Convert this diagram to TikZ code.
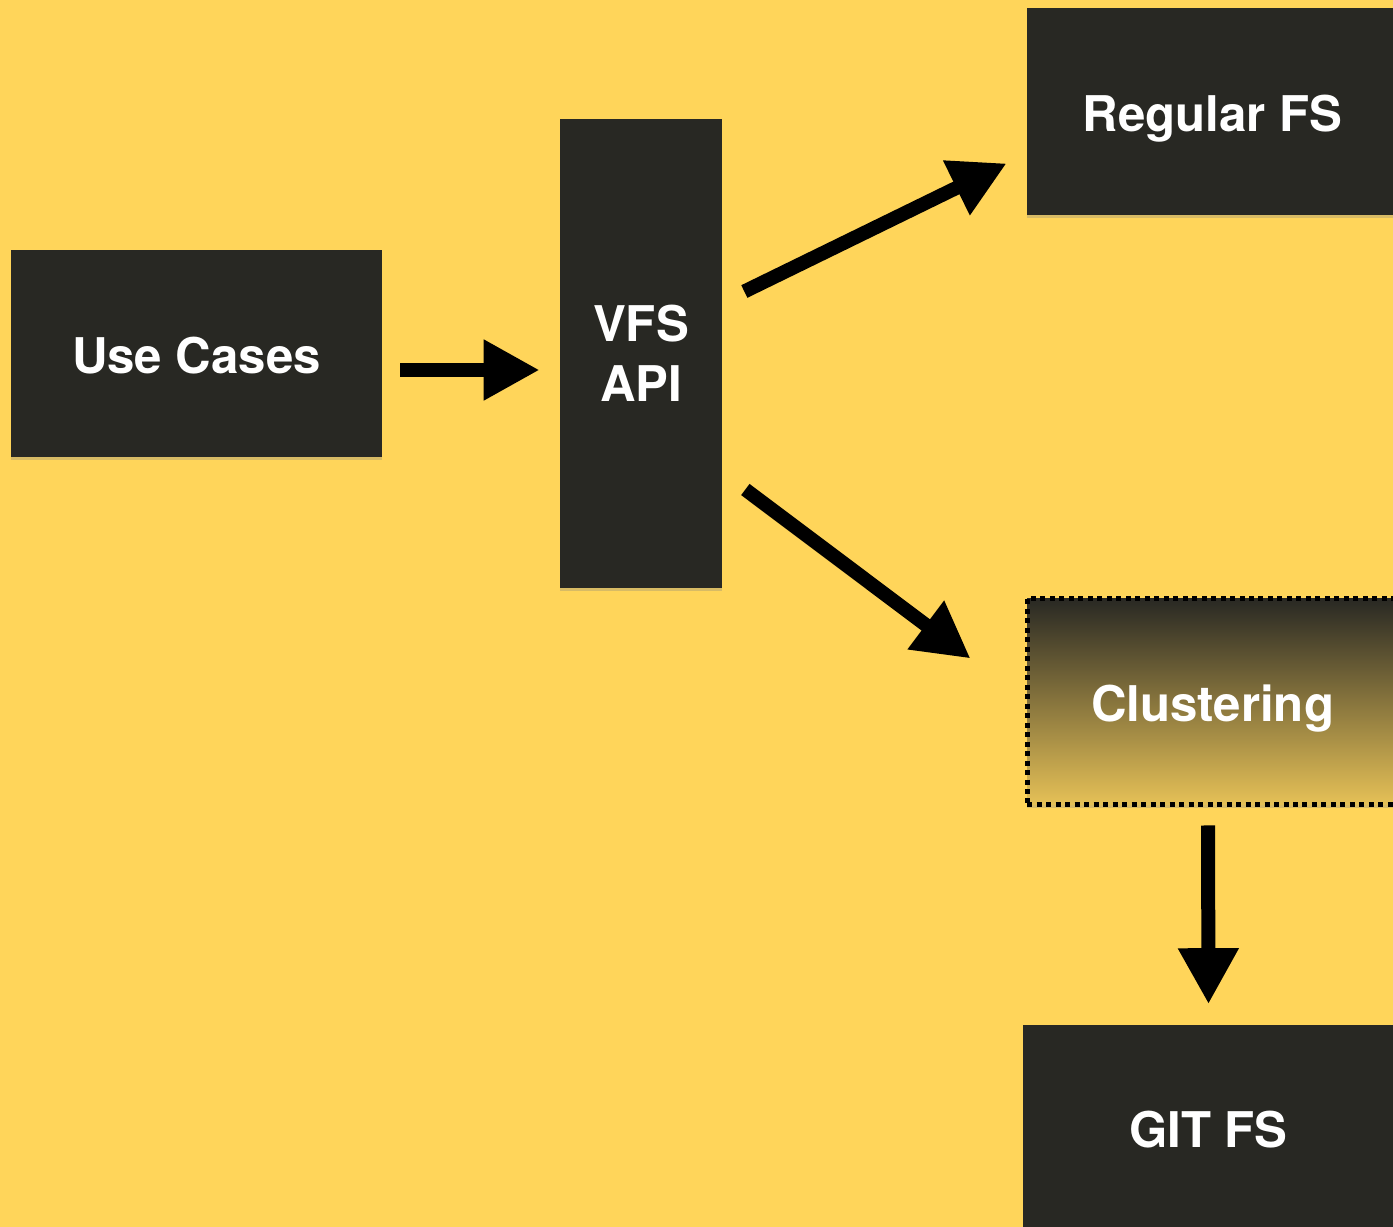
\documentclass[tikz,border=0pt]{standalone}
\usepackage{fontspec}
\setmainfont{TeX Gyre Heros}
\usetikzlibrary{arrows.meta,shadows}
\definecolor{bgyellow}{HTML}{FFD55A}
\definecolor{boxdark}{HTML}{282823}
\definecolor{fadeyellow}{HTML}{E6C157}
\tikzset{
  box/.style={fill=boxdark, text=white, font=\fontsize{28}{34}\selectfont\bfseries,
    minimum width=7.42cm, minimum height=4.14cm, inner sep=0pt, align=center,
    drop shadow={shadow xshift=0pt, shadow yshift=-0.07cm, opacity=0.3}},
  capbox/.style={box, text height=22.5pt, text depth=0pt},
  fadebox/.style={capbox, fill=none, drop shadow={opacity=0}, top color=boxdark, bottom color=fadeyellow,
    draw=black, line width=0.1cm, dash pattern=on 0.1cm off 0.09cm},
  arrow/.style={draw=black, line width=0.28cm, -{Triangle[length=1.12cm, width=1.14cm]}}
}
\begin{document}
\begin{tikzpicture}[x=0.02cm, y=-0.02cm]
\useasboundingbox (0,0) rectangle (1393,1227);
\clip (0,0) rectangle (1393,1227);
\fill[bgyellow] (0,0) rectangle (1393,1227);

\node[capbox] (uc) at (196.5,353.5) {Use Cases};
\node[box, minimum width=3.24cm, minimum height=9.38cm] (vfs) at (641,353.5) {VFS\\API};
\node[capbox] (reg) at (1212.5,111.5) {Regular FS};
\node[fadebox] (clu) at (1212.5,701.5) {Clustering};
\node[capbox] (git) at (1208.5,1128) {GIT FS};

\draw[arrow] ([shift={(18,16.5)}]uc.east) -- ([shift={(-20,16.5)}]vfs.west);
\draw[arrow] ([shift={(22,-62)}]vfs.east) -- ([shift={(-20,-52)}]reg.south west);
\draw[arrow] ([shift={(23,136)}]vfs.east) -- ([shift={(-54,63)}]clu.north west);
\draw[arrow] ([shift={(-4.5,18)}]clu.south) -- ([shift={(0,-20)}]git.north);
\end{tikzpicture}
\end{document}
